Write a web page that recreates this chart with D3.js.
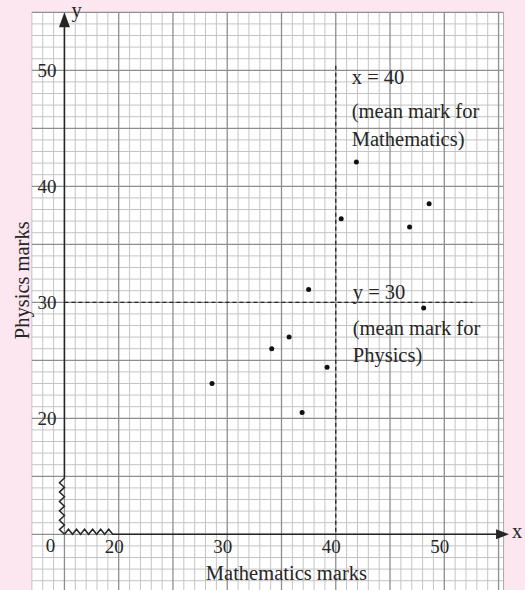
<!DOCTYPE html>
<html>
<head>
<meta charset="utf-8">
<script src="https://cdn.jsdelivr.net/npm/d3@7"></script>
<style>
  body { margin: 0; background: #fce6f0; }
  svg { display: block; }
  text { font-family: "Liberation Serif", "Times New Roman", serif; fill: #262626; }
</style>
</head>
<body>
<div id="chart"></div>
<script>
// marks
const mathsMarks   = [28.6, 34.1, 35.7, 37.5, 36.9, 39.2, 40.5, 41.9, 46.8, 48.6, 48.1];
const physicsMarks = [23.0, 26.0, 27.0, 31.1, 20.5, 24.4, 37.2, 42.1, 36.5, 38.5, 29.5];
const xTicks = [20, 30, 40, 50];
const yTicks = [20, 30, 40, 50];
const meanMaths = 40;
const meanPhysics = 30;
const xLabel = 'Mathematics marks';
const yLabel = 'Physics marks';
const xNote = ['x = 40', '(mean mark for', 'Mathematics)'];
const yNote = ['y = 30', '(mean mark for', 'Physics)'];

drawScatter('#chart');

function drawScatter(id) {
    const pageWidth = 525;
    const pageHeight = 590;
    const fontSize = 19;
    const noteSize = 20.5;
    const ink = '#262626';

    const svg = d3.select(id)
        .append('svg')
        .attr('width', pageWidth)
        .attr('height', pageHeight);

    svg.append('rect')
        .attr('width', pageWidth)
        .attr('height', pageHeight)
        .attr('fill', '#fce6f0');

    // the axes are broken: the origin sits where x = 15 and y = 10 would be
    const x = d3.scaleLinear().domain([20, 50]).range([118.7, 444.3]);
    const y = d3.scaleLinear().domain([20, 50]).range([418.3, 70.3]);
    const originX = 15, originY = 10;
    const gridX = [12, 55.46], gridY = [4, 55];

    // graph paper
    svg.append('rect')
        .attr('x', x(gridX[0]))
        .attr('y', y(gridY[1]))
        .attr('width', x(gridX[1]) - x(gridX[0]))
        .attr('height', y(gridY[0]) - y(gridY[1]))
        .attr('fill', '#ffffff');

    const vLines = d3.range(gridX[0], 56);
    const hLines = d3.range(gridY[0] + 1, gridY[1] + 1);
    const paper = svg.append('g');
    ['minor', 'major'].forEach(kind => {
        const isMajor = kind === 'major';
        const pick = v => (v % 5 === 0) === isMajor;
        paper.append('g').selectAll('line')
            .data(vLines.filter(pick))
            .enter().append('line')
            .attr('x1', d => x(d)).attr('x2', d => x(d))
            .attr('y1', y(gridY[1])).attr('y2', y(gridY[0]))
            .attr('stroke', isMajor ? '#8e8e8e' : '#c4c4c4')
            .attr('stroke-width', isMajor ? 1.3 : 1);
        paper.append('g').selectAll('line')
            .data(hLines.filter(pick))
            .enter().append('line')
            .attr('y1', d => y(d)).attr('y2', d => y(d))
            .attr('x1', x(gridX[0])).attr('x2', x(gridX[1]))
            .attr('stroke', isMajor ? '#8e8e8e' : '#c4c4c4')
            .attr('stroke-width', isMajor ? 1.3 : 1);
    });
    paper.append('line')
        .attr('x1', x(gridX[1])).attr('x2', x(gridX[1]))
        .attr('y1', y(gridY[1])).attr('y2', y(gridY[0]))
        .attr('stroke', '#a8a8a8').attr('stroke-width', 1);

    // mean lines
    svg.append('line')
        .attr('x1', x(meanMaths)).attr('x2', x(meanMaths))
        .attr('y1', y(50.4)).attr('y2', y(originY))
        .attr('stroke', ink).attr('stroke-width', 1.3)
        .attr('stroke-dasharray', '4,3');
    svg.append('line')
        .attr('x1', x(originX)).attr('x2', x(52.6))
        .attr('y1', y(meanPhysics)).attr('y2', y(meanPhysics))
        .attr('stroke', ink).attr('stroke-width', 1.3)
        .attr('stroke-dasharray', '4,3');

    // axes with zigzag breaks
    const ox = x(originX), oy = y(originY);
    const yBreak = y(14.85), xBreak = x(19.45);
    const axisG = svg.append('g')
        .attr('fill', 'none')
        .attr('stroke', ink)
        .attr('stroke-width', 1.5);

    const yZig = [[ox, y(55) + 14], [ox, yBreak]];
    const yTeeth = 6, yStep = (oy - yBreak) / (yTeeth * 2);
    for (let i = 1; i <= yTeeth * 2; i++) {
        yZig.push([i % 2 ? ox - 5 : ox, yBreak + i * yStep]);
    }
    axisG.append('path').attr('d', d3.line()(yZig));

    const xZig = [[ox, oy]];
    const xTeeth = 6, xStep = (xBreak - ox) / (xTeeth * 2);
    for (let i = 1; i <= xTeeth * 2; i++) {
        xZig.push([ox + i * xStep, i % 2 ? oy - 5 : oy]);
    }
    xZig.push([x(gridX[1]) - 7, oy]);
    axisG.append('path').attr('d', d3.line()(xZig));

    // arrow heads
    const tipY = y(55);
    svg.append('path')
        .attr('d', d3.line()([[ox, tipY], [ox - 5.5, tipY + 15], [ox + 5.5, tipY + 15]]) + 'Z')
        .attr('fill', ink);
    const tipX = x(gridX[1]) + 5.5;
    svg.append('path')
        .attr('d', d3.line()([[tipX, oy], [tipX - 13, oy - 5], [tipX - 13, oy + 5]]) + 'Z')
        .attr('fill', ink);

    svg.append('text')
        .attr('x', ox + 7).attr('y', tipY + 5)
        .style('font-size', noteSize + 'px')
        .text('y');
    svg.append('text')
        .attr('x', tipX + 3).attr('y', oy + 4)
        .style('font-size', noteSize + 'px')
        .text('x');

    // tick labels
    const xAxis = svg.append('g')
        .attr('transform', 'translate(0,' + oy + ')')
        .call(d3.axisBottom(x).tickValues(xTicks).tickSize(0).tickPadding(5));
    xAxis.select('.domain').remove();
    xAxis.selectAll('text')
        .attr('dx', -5)
        .style('font-family', '"Liberation Serif", serif')
        .style('font-size', fontSize + 'px')
        .attr('fill', ink);

    const yAxis = svg.append('g')
        .attr('transform', 'translate(' + ox + ',0)')
        .call(d3.axisLeft(y).tickValues(yTicks).tickSize(0).tickPadding(8));
    yAxis.select('.domain').remove();
    yAxis.selectAll('text')
        .attr('dy', '0.3em')
        .style('font-family', '"Liberation Serif", serif')
        .style('font-size', fontSize + 'px')
        .attr('fill', ink);

    svg.append('text')
        .attr('x', ox - 14).attr('y', oy + 18)
        .attr('text-anchor', 'middle')
        .style('font-size', fontSize + 'px')
        .text('0');

    // axis titles
    svg.append('text')
        .attr('x', x(35.45)).attr('y', oy + 46)
        .attr('text-anchor', 'middle')
        .style('font-size', noteSize + 'px')
        .text(xLabel);
    svg.append('text')
        .attr('transform', 'translate(28.5,' + y(31.9) + ') rotate(-90)')
        .attr('text-anchor', 'middle')
        .style('font-size', noteSize + 'px')
        .text(yLabel);

    // notes beside the mean lines
    svg.append('g').selectAll('text')
        .data(xNote)
        .enter().append('text')
        .attr('x', x(meanMaths) + 16)
        .attr('y', (d, i) => y(50) + 14 + [0, 34, 62][i])
        .style('font-size', noteSize + 'px')
        .text(d => d);
    svg.append('g').selectAll('text')
        .data(yNote)
        .enter().append('text')
        .attr('x', x(meanMaths) + 17)
        .attr('y', (d, i) => y(meanPhysics) - 3 + [0, 36, 63][i])
        .style('font-size', noteSize + 'px')
        .text(d => d);

    // the points
    svg.append('g').selectAll('circle')
        .data(mathsMarks.map((m, i) => ({maths: m, physics: physicsMarks[i]})))
        .enter().append('circle')
        .attr('cx', d => x(d.maths))
        .attr('cy', d => y(d.physics))
        .attr('r', 2.5)
        .attr('fill', '#111');
}
</script>
</body>
</html>
